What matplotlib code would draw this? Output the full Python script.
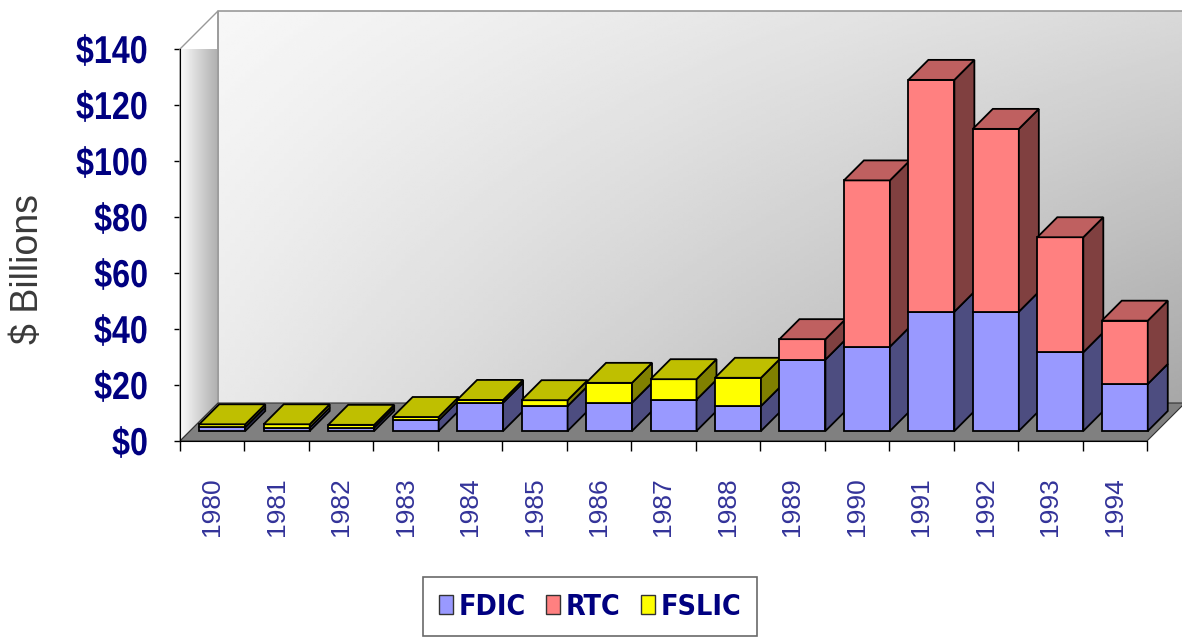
import numpy as np
import matplotlib
matplotlib.use("Agg")
import matplotlib.pyplot as plt
from matplotlib.patches import Polygon, Patch
from matplotlib import font_manager, patheffects
from matplotlib.transforms import Affine2D

years = ["1980", "1981", "1982", "1983", "1984", "1985", "1986", "1987",
         "1988", "1989", "1990", "1991", "1992", "1993", "1994"]
fdic = [1.3, 1.2, 1.2, 3.8, 10.1, 8.9, 10.1, 11.2, 8.9, 25.5, 30.1, 42.6, 42.6, 28.1, 16.8]
rtc = [0, 0, 0, 0, 0, 0, 0, 0, 0, 7.3, 59.4, 82.8, 65.3, 41.1, 22.6]
fslic = [1.1, 1.2, 1.0, 1.2, 1.0, 2.1, 7.1, 7.3, 10.1, 0, 0, 0, 0, 0, 0]

series = [
    ("FDIC", fdic, "#9999ff", "#4d4d80", "#7373bf"),
    ("RTC", rtc, "#ff8080", "#804040", "#bf6060"),
    ("FSLIC", fslic, "#ffff00", "#808000", "#bfbf00"),
]

arial = ["Liberation Sans", "DejaVu Sans"]

# look for a narrow bold face, the original uses Arial Narrow bold
narrow_file = None
scale = 1.0
for pat, sc in [("LiberationSansNarrow-Bold.", 1.0), ("ArialNarrow", 1.0),
                ("DejaVuSansCondensed-Bold.", 0.82)]:
    for fe in font_manager.fontManager.ttflist:
        if pat in fe.fname:
            narrow_file = fe.fname
            scale = sc
            break
    if narrow_file:
        break
if narrow_file:
    def nprop(size):
        return font_manager.FontProperties(fname=narrow_file, size=size * scale)
else:
    def nprop(size):
        return font_manager.FontProperties(family=arial, weight="bold", size=size * 0.86)


class Squeeze(patheffects.AbstractPathEffect):
    """draw text squeezed horizontally, keeping its right edge"""
    def __init__(self, sx):
        super().__init__()
        self.sx = sx

    def draw_path(self, renderer, gc, tpath, affine, rgbFace=None):
        ext = tpath.get_extents()
        t = Affine2D().translate(-ext.x1, 0).scale(self.sx, 1).translate(ext.x1, 0)
        renderer.draw_path(gc, tpath, t + affine, rgbFace)


W, H = 1182, 640
fig = plt.figure(figsize=(W / 100, H / 100), dpi=100)
# front plane of the plot in pixels: x 180..1147, y 441..49
ax = fig.add_axes([180 / W, 1 - 441 / H, (1147 - 180) / W, (441 - 49) / H])
n = len(years)
ymax = 140
ax.set_xlim(0, n)
ax.set_ylim(0, ymax)

# pixel -> data units
ux = n / (1147 - 180)
uy = ymax / (441 - 49)

# depth offsets (pixels)
D = 38      # floor / walls
f = 10      # front face of bars
b = 20      # bar depth
Dx, Dy = D * ux, D * uy

# back wall with diagonal gradient
gx, gy = np.meshgrid(np.linspace(0, 1, 200), np.linspace(0, 1, 200))
shade = 0.97 - 0.12 * gx - 0.14 * gy * (0.4 + gx)
ax.imshow(shade, cmap="gray", vmin=0, vmax=1, origin="upper", aspect="auto",
          extent=[Dx, n + Dx + 0.1, Dy, ymax + Dy], clip_on=False, zorder=0)
ax.plot([Dx, Dx, n + Dx + 0.1], [Dy, ymax + Dy, ymax + Dy], color="#999999",
        lw=1.2, clip_on=False, zorder=1)

# left wall
lw_poly = Polygon([(0, 0), (Dx, Dy), (Dx, ymax + Dy), (0, ymax)], closed=True,
                  facecolor="none", edgecolor="#999999", lw=1.0, clip_on=False, zorder=2)
ax.add_patch(lw_poly)
lg = np.tile(np.linspace(0.99, 0.78, 100) ** 1.5, (10, 1))
im = ax.imshow(lg, cmap="gray", vmin=0, vmax=1, aspect="auto",
               extent=[0, Dx, 0, ymax + Dy], clip_on=True, zorder=1.5)
im.set_clip_path(lw_poly)

# floor
ax.add_patch(Polygon([(0, 0), (n, 0), (n + Dx, Dy), (Dx, Dy)], closed=True,
                     facecolor="#808080", edgecolor="#303030", lw=0.8,
                     clip_on=False, zorder=2))

# bars, left to right
w = 46 * ux
fx, fy = f * ux, f * uy
bx, by = b * ux, b * uy
z = 3
for i in range(n):
    xl = i + 0.5 + fx - w / 2
    xr = xl + w
    bottom = 0
    segs = [(s[1][i], s[2], s[3], s[4]) for s in series if s[1][i] > 0]
    for k, (h, cf, cs, ct) in enumerate(segs):
        y0, y1 = bottom + fy, bottom + h + fy
        ax.add_patch(Polygon([(xl, y0), (xr, y0), (xr, y1), (xl, y1)], closed=True,
                             facecolor=cf, edgecolor="black", lw=1.3,
                             clip_on=False, zorder=z))
        ax.add_patch(Polygon([(xr, y0), (xr + bx, y0 + by), (xr + bx, y1 + by), (xr, y1)],
                             closed=True, facecolor=cs, edgecolor="black", lw=1.3,
                             clip_on=False, zorder=z))
        if k == len(segs) - 1:
            ax.add_patch(Polygon([(xl, y1), (xr, y1), (xr + bx, y1 + by), (xl + bx, y1 + by)],
                                 closed=True, facecolor=ct, edgecolor="black", lw=1.3,
                                 clip_on=False, zorder=z))
        bottom += h
        z += 0.01

# axes styling
for s in ["top", "right"]:
    ax.spines[s].set_visible(False)
ax.spines["left"].set_color("black")
ax.spines["bottom"].set_color("black")
ax.spines["left"].set_zorder(10)
ax.spines["bottom"].set_zorder(10)
ax.patch.set_visible(False)

yt = list(range(0, ymax + 1, 20))
ax.set_yticks(yt)
ylabs = ax.set_yticklabels(["$%d" % v for v in yt], family=arial, fontweight="bold",
                           fontsize=28, color="#000080")
for t in ylabs:
    t.set_path_effects([Squeeze(0.83)])
ax.tick_params(axis="y", length=4, width=1, pad=19)

ax.set_xticks(range(n + 1))
ax.set_xticklabels([])
ax.tick_params(axis="x", which="major", length=7, width=1, direction="out")
ax.set_xticks([i + 0.5 for i in range(n)], minor=True)
ax.set_xticklabels(years, minor=True, rotation=90, family=arial, fontsize=19,
                   color="#333399")
ax.tick_params(axis="x", which="minor", length=0, pad=26)

fig.text(28 / W, 1 - 269 / H, "$ Billions", rotation=90, ha="center", va="center",
         family=arial, fontsize=27, color="#3a3a3a")

handles = [Patch(facecolor=s[2], edgecolor="#333333", label=s[0]) for s in series]
leg = fig.legend(handles=handles, ncol=3, loc="upper center",
                 bbox_to_anchor=(590 / W, 1 - 577 / H), borderaxespad=0,
                 frameon=True, fancybox=False,
                 edgecolor="#444444", borderpad=0.55, handlelength=0.5, handleheight=0.65,
                 handletextpad=0.2, columnspacing=0.7, prop=nprop(25))
leg.get_frame().set_linewidth(1.2)
for t in leg.get_texts():
    t.set_color("#000080")

fig.savefig("out.png", dpi=100)
